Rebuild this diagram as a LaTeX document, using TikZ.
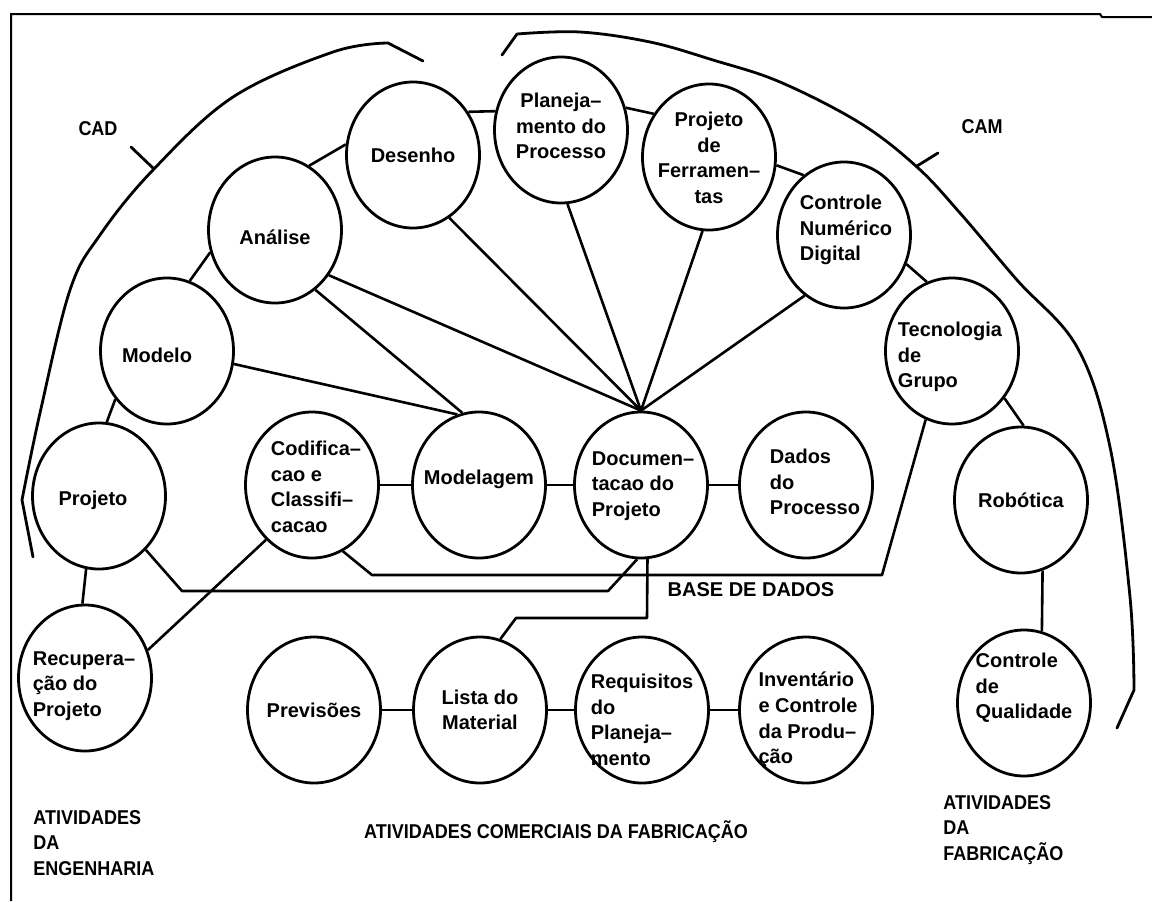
\documentclass[tikz,border=0pt]{standalone}
\usepackage{fontspec}
\setmainfont{Liberation Sans}
\newfontfamily\narrowcaps[FakeStretch=0.9]{Liberation Sans}
\usetikzlibrary{shapes.geometric}
\begin{document}
\begin{tikzpicture}[x=0.5pt,y=-0.5pt,
  ring/.style={draw, ellipse, line width=1.4pt, minimum width=66.5pt, minimum height=73pt, inner sep=0pt},
  txt/.style={font=\bfseries\fontsize{10}{12.8}\selectfont, align=left, inner sep=0pt},
  ctxt/.style={txt, align=center},
  link/.style={line width=1.3pt, line join=round},
  arcline/.style={line width=1.4pt, line join=round, line cap=round},
  caption/.style={font=\narrowcaps\bfseries\fontsize{10}{12.6}\selectfont, align=left, inner sep=0pt}]
\useasboundingbox (0,0) rectangle (1152,901);
\fill[white] (0,0) rectangle (1152,901);

% frame
\draw[line width=1pt] (11,901) -- (11,14) -- (1100,14) -- (1102,17) -- (1152,17);

% activity circles
\node[ring] (des) at (413,155) {};
\node[ring] (pla) at (561,130) {};
\node[ring] (fer) at (709,157) {};
\node[ring] (cnd) at (844,235) {};
\node[ring] (ana) at (275,230) {};
\node[ring] (mod) at (167,351) {};
\node[ring] (pro) at (99,496) {};
\node[ring] (cod) at (312,485) {};
\node[ring] (mdg) at (479,485) {};
\node[ring] (doc) at (641,485) {};
\node[ring] (dad) at (806,485) {};
\node[ring] (tec) at (952,351) {};
\node[ring] (rob) at (1021,500) {};
\node[ring] (cq)  at (1024,703) {};
\node[ring] (rec) at (85,678) {};
\node[ring] (pre) at (314,710) {};
\node[ring] (lis) at (480,710) {};
\node[ring] (req) at (642,710) {};
\node[ring] (inv) at (806,710) {};

% circle texts
\node[txt]  (des-t) at (des) {Desenho};
\node[ctxt] (pla-t) at (561,126) {Planeja–\\mento do\\Processo};
\node[ctxt] (fer-t) at (709,158) {Projeto\\de\\Ferramen–\\tas};
\node[txt]  (cnd-t) at (846,230) {Controle\\Numérico\\Digital};
\node[txt]  (ana-t) at (275,237) {Análise};
\node[txt]  (mod-t) at (157,355) {Modelo};
\node[txt]  (pro-t) at (93,500) {Projeto};
\node[txt]  (cod-t) at (316,487) {Codifica–\\cao e\\Classifi–\\cacao};
\node[txt]  (mdg-t) at (479,479) {Modelagem};
\node[txt]  (doc-t) at (643,486) {Documen–\\tacao do\\Projeto};
\node[txt]  (dad-t) at (815,482) {Dados\\do\\Processo};
\node[txt]  (tec-t) at (950,357) {Tecnologia\\de\\Grupo};
\node[txt]  (rob-t) at (1021,500) {Robótica};
\node[txt]  (cq-t)  at (1024,688) {Controle\\de\\Qualidade};
\node[txt]  (rec-t) at (84,686) {Recupera–\\ção do\\Projeto};
\node[txt]  (pre-t) at (314,710) {Previsões};
\node[ctxt] (lis-t) at (480,710) {Lista do\\Material};
\node[txt]  (req-t) at (642,720) {Requisitos\\do\\Planeja–\\mento};
\node[txt]  (inv-t) at (808,720) {Inventário\\e Controle\\da Produ–\\ção};

% chain links
\draw[link] (des.38) -- (pla.164);
\draw[link] (pla.19) -- (fer.142);
\draw[link] (fer.-7) -- (cnd.124);
\draw[link] (des.171) -- (ana.62);
\draw[link] (ana.199) -- (mod.72);
\draw[link] (mod.223) -- (pro.84);
\draw[link] (cnd.-25) -- (tec.110);
\draw[link] (tec.-42) -- (rob.88);
\draw[link] (rob.-73) -- (cq.76);

% fan into the project documentation
\draw[link] (ana.-40) -- (doc.north);
\draw[link] (des.-60) -- (doc.north);
\draw[link] (pla.-85) -- (doc.north);
\draw[link] (fer.-95) -- (doc.north);
\draw[link] (cnd.-123) -- (doc.north);

% links into modelling
\draw[link] (ana.-56) -- (mdg.103);
\draw[link] (mod.-11) -- (mdg.107);
\draw[link] (cod.east) -- (mdg.west);
\draw[link] (mdg.east) -- (doc.west);
\draw[link] (doc.east) -- (dad.west);

% database routing
\draw[link] (cod.-65) -- (372,575) -- (882,575) -- (tec.-111);
\draw[link] (pro.-49) -- (182,591) -- (608,591) -- (doc.-93);
\draw[link] (doc.-85) -- (647,618) -- (516,618) -- (lis.74);
\draw[link] (cod.230) -- (rec.24);
\draw[link] (pro.260) -- (rec.92);

% business chain
\draw[link] (pre.east) -- (lis.west);
\draw[link] (lis.east) -- (req.west);
\draw[link] (req.east) -- (inv.west);

% CAD and CAM brackets
\draw[arcline] (423,61) -- plot[smooth, tension=0.6] coordinates
  {(388,43) (333,52) (233,97) (153,170) (100,235) (70,290) (40,413) (22,500)} -- (33,557);
\draw[arcline] (131,147) -- (154,169);
\draw[arcline] (502,55) -- plot[smooth, tension=0.6] coordinates
  {(517,34) (580,32) (650,42) (713,60) (780,82) (860,123) (917,167) (960,213) (1017,280) (1077,347) (1110,447) (1130,597) (1134,690)} -- (1117,728);
\draw[arcline] (917,166) -- (938,153);

% labels
\node[caption] (cad) at (98,129) {CAD};
\node[caption] (cam) at (982,127) {CAM};
\node[txt] (base) at (751,590) {BASE DE DADOS};
\node[caption, anchor=west] (eng) at (33,843) {ATIVIDADES\\DA\\ENGENHARIA};
\node[caption] (com) at (556,832) {ATIVIDADES COMERCIAIS DA FABRICAÇÃO};
\node[caption, anchor=west] (fab) at (943,830) {ATIVIDADES\\DA\\FABRICAÇÃO};
\end{tikzpicture}
\end{document}
